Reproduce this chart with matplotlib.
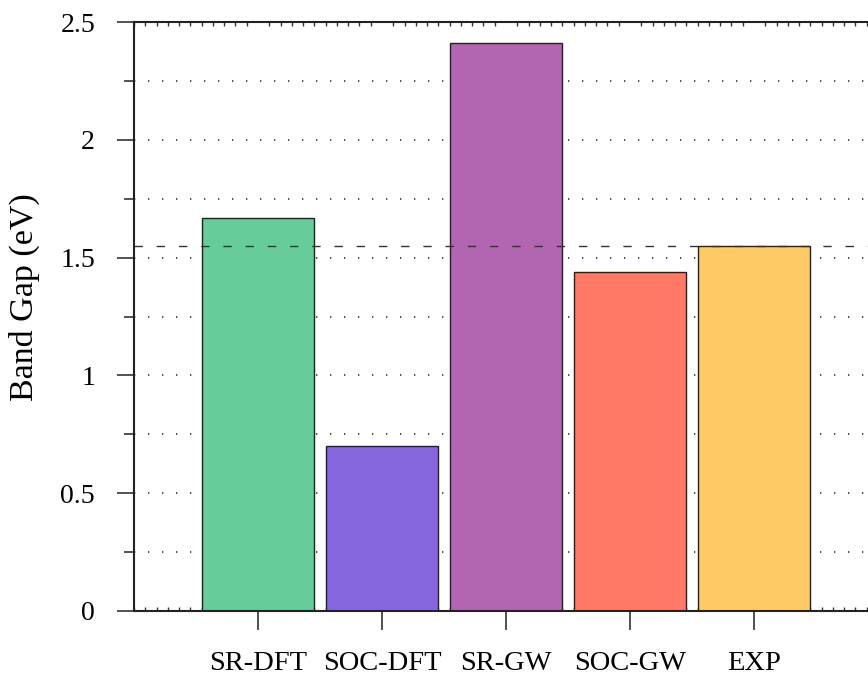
import matplotlib
matplotlib.use("Agg")
import matplotlib.pyplot as plt
from matplotlib.ticker import MultipleLocator

plt.rcParams['font.family'] = ['Liberation Serif', 'DejaVu Serif']

methods = ["SR-DFT", "SOC-DFT", "SR-GW", "SOC-GW", "EXP"]
band_gaps = [1.67, 0.70, 2.41, 1.44, 1.55]
bar_colors = ["#66cc99", "#8566dd", "#b266b2", "#ff7966", "#ffc966"]
experimental_gap = 1.55
y_ticks = [0, 0.5, 1, 1.5, 2, 2.5]
y_tick_labels = ["0", "0.5", "1", "1.5", "2", "2.5"]

W, H = 868, 677
fig = plt.figure(figsize=(W / 100, H / 100), dpi=100)
ax = fig.add_axes([134 / W, (H - 611) / H, 744 / W, 589 / H])

positions = list(range(1, len(methods) + 1))

# dotted horizontal grid every 0.25 eV, behind the bars
for yv in [0.25 * k for k in range(1, 10)]:
    ax.axhline(yv, color="#333333", lw=1.2, dashes=(0.8, 7.6), zorder=0.5)

ax.bar(positions, band_gaps, width=0.9, color=bar_colors,
       edgecolor="#222222", linewidth=1.0, zorder=2)

# experimental reference line
ax.axhline(experimental_gap, color="#333333", lw=1.0, dashes=(6, 10), zorder=3)

ax.set_xlim(0, 6)
ax.set_ylim(0, 2.5)

ax.set_xticks(positions)
ax.set_xticklabels(methods, fontsize=20.5)
ax.set_yticks(y_ticks)
ax.set_yticklabels(y_tick_labels, fontsize=20)
ax.yaxis.set_minor_locator(MultipleLocator(0.25))
ax.xaxis.set_minor_locator(MultipleLocator(1 / 11))

ax.tick_params(axis="y", which="major", direction="out", length=12, width=1.2,
               color="#333333", pad=16)
ax.tick_params(axis="y", which="minor", direction="out", length=7, width=1.2,
               color="#333333")
ax.tick_params(axis="x", which="major", direction="out", length=14, width=1.2,
               color="#333333", pad=15, top=False)
ax.tick_params(axis="x", which="minor", direction="in", length=3, width=1.0,
               color="#333333", top=True)

for side, sp in ax.spines.items():
    sp.set_linewidth(1.5)
    sp.set_color("#222222")

ax.set_ylabel("Band Gap (eV)", fontsize=24.5)
ax.yaxis.set_label_coords(-0.126, 0.533)

fig.savefig("out.png", dpi=100)
